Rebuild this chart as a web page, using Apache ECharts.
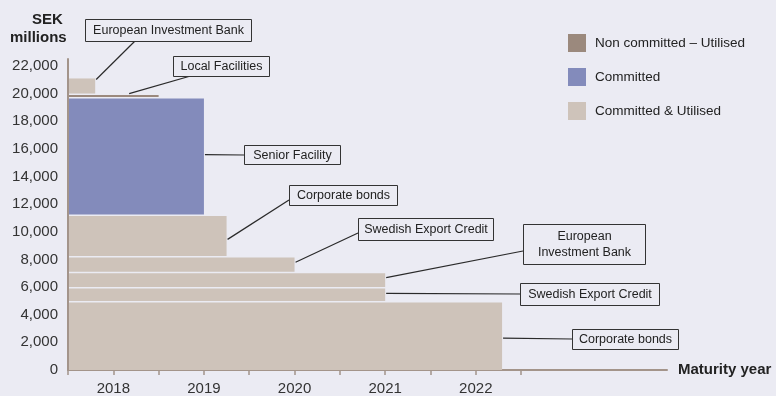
<!DOCTYPE html>
<html>
<head>
<meta charset="utf-8">
<script src="https://cdn.jsdelivr.net/npm/echarts@6/dist/echarts.min.js"></script>
<style>
  html, body { margin: 0; padding: 0; background: #ebebf3; }
  #chart { width: 776px; height: 396px; }
</style>
</head>
<body>
<div id="chart"></div>
<script>
// Credit facilities, stacked from the bottom up, SEK millions
const facilities = ['Corporate bonds', 'Swedish Export Credit', 'European Investment Bank', 'Swedish Export Credit',
  'Corporate bonds', 'Senior Facility', 'Local Facilities', 'European Investment Bank'];
const amounts = [5000, 1000, 1100, 1150, 3000, 8500, 250, 1200];
const maturities = [2022.29, 2021.0, 2021.0, 2020.0, 2019.25, 2019.0, 2018.5, 2017.8];
const facilityTypes = ['Committed & Utilised', 'Committed & Utilised', 'Committed & Utilised', 'Committed & Utilised',
  'Committed & Utilised', 'Committed', 'Non committed – Utilised', 'Committed & Utilised'];
const calloutTexts = ['Corporate bonds', 'Swedish Export Credit', 'European\nInvestment Bank', 'Swedish Export Credit',
  'Corporate bonds', 'Senior Facility', 'Local Facilities', 'European Investment Bank'];
const typeNames = ['Non committed – Utilised', 'Committed', 'Committed & Utilised'];
const yearLabels = [2018, 2019, 2020, 2021, 2022];
const xTickValues = [2017.5, 2018, 2018.5, 2019, 2019.5, 2020, 2020.5, 2021, 2021.5, 2022, 2022.5];
const yTickValues = [0, 2000, 4000, 6000, 8000, 10000, 12000, 14000, 16000, 18000, 20000, 22000];

// Styling and callout layout
const typeColors = { 'Non committed – Utilised': '#9b897d', 'Committed': '#838bbb', 'Committed & Utilised': '#cec3ba' };
const axisColor = '#a3948a';
const FONT = '"Liberation Sans", Arial, Helvetica, sans-serif';
const X_START = 2017.5;
// [left, top, width, height] of each callout box in pixels
const calloutBoxes = [
  [572, 329, 106, 20], [520, 283, 139, 22], [523, 224, 122, 40], [358, 218, 135, 22],
  [289, 185, 108, 20], [244, 145, 96, 19], [173, 56, 96, 20], [85, 19, 166, 22]
];
// point on the box where the leader line ends
const calloutEnds = [
  [572, 339], [520, 294], [523, 251], [358, 233], [289, 200], [244, 155], [194, 75], [135, 41]
];
// where the leader leaves the bar: fraction along the bar, fraction up the bar
const calloutAnchors = [
  [1, 0.46], [1, 0.55], [1, 0.62], [1, 0.6], [1, 0.4], [1, 0.51], [0.66, 1], [1, 0.85]
];

const bottoms = [];
let acc = 0;
amounts.forEach(a => { bottoms.push(acc); acc += a; });

const GAP = 1.5;

function renderItem(params, api) {
  const i = api.value(4);
  const p0 = api.coord([api.value(0), api.value(2)]);
  const p1 = api.coord([api.value(1), api.value(3)]);
  const x = p0[0] + 1;
  const w = p1[0] - x;
  const yTop = p1[1] + GAP;
  const h = p0[1] - yTop;
  const color = typeColors[facilityTypes[i]];
  const a = calloutAnchors[i];
  const ax = x + w * a[0] + 1;
  const ay = p0[1] - (p0[1] - p1[1]) * a[1];
  const e = calloutEnds[i];
  const b = calloutBoxes[i];
  return {
    type: 'group',
    children: [
      { type: 'rect', shape: { x: x, y: yTop, width: w, height: h }, style: { fill: color } },
      { type: 'line', shape: { x1: ax, y1: ay, x2: e[0], y2: e[1] },
        style: { stroke: '#2a2a2a', lineWidth: 1.2 } },
      { type: 'rect', shape: { x: b[0] + 0.5, y: b[1] + 0.5, width: b[2], height: b[3] },
        style: { fill: '#ebebf3', stroke: '#333', lineWidth: 1 } },
      { type: 'text', style: {
          text: calloutTexts[i], x: b[0] + b[2] / 2 + 0.5, y: b[1] + b[3] / 2 + 1,
          align: 'center', verticalAlign: 'middle', font: '12.5px ' + FONT, fill: '#222', lineHeight: 16 } }
    ]
  };
}

const series = typeNames.map(t => ({
  name: t,
  type: 'custom',
  clip: false,
  renderItem: renderItem,
  itemStyle: { color: typeColors[t] },
  encode: { x: [0, 1], y: [2, 3] },
  data: facilities.map((f, i) => i).filter(i => facilityTypes[i] === t)
    .map(i => [X_START, maturities[i], bottoms[i], bottoms[i] + amounts[i], i]),
  silent: true
}));

const chart = echarts.init(document.getElementById('chart'), null, { renderer: 'canvas' });
chart.setOption({
  backgroundColor: '#ebebf3',
  animation: false,
  grid: { left: 68, right: 109, top: 59, bottom: 25 },
  legend: {
    data: typeNames,
    orient: 'vertical',
    left: 568, top: 34,
    padding: 0,
    icon: 'rect',
    itemWidth: 18, itemHeight: 18, itemGap: 16,
    selectedMode: false,
    textStyle: { fontFamily: FONT, fontSize: 13.5, color: '#222', padding: [0, 0, 0, 4] }
  },
  xAxis: {
    type: 'value',
    min: X_START, max: 2024.11,
    axisLine: { show: true, lineStyle: { color: axisColor, width: 2 } },
    axisTick: { show: true, customValues: xTickValues, length: 5, lineStyle: { color: axisColor, width: 1.5 } },
    axisLabel: { customValues: yearLabels, formatter: v => String(Math.round(v)),
      fontFamily: FONT, fontSize: 15, color: '#333', margin: 11 },
    splitLine: { show: false },
    name: 'Maturity year',
    nameLocation: 'end',
    nameGap: 11,
    nameTextStyle: { fontFamily: FONT, fontSize: 15, fontWeight: 'bold', color: '#222', verticalAlign: 'middle' }
  },
  yAxis: {
    type: 'value',
    min: 0, max: 22500,
    axisLine: { show: true, lineStyle: { color: axisColor, width: 2 } },
    axisTick: { show: false },
    axisLabel: { customValues: yTickValues, formatter: v => v.toLocaleString('en-US'),
      fontFamily: FONT, fontSize: 15, color: '#333', margin: 10 },
    splitLine: { show: false }
  },
  graphic: [
    { type: 'text', left: 32, top: 12, style: { text: 'SEK', font: 'bold 15px ' + FONT, fill: '#222' } },
    { type: 'text', left: 10, top: 30, style: { text: 'millions', font: 'bold 15px ' + FONT, fill: '#222' } }
  ],
  series: series
});
</script>
</body>
</html>
